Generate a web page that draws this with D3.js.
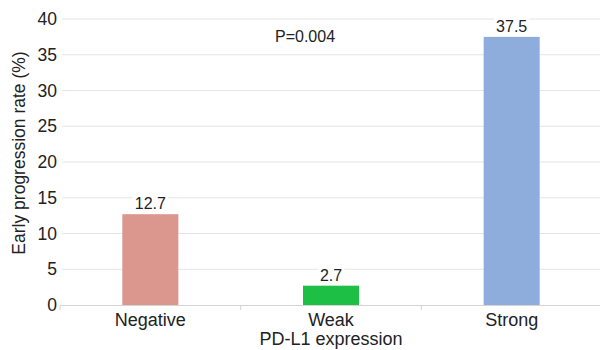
<!DOCTYPE html>
<html><head><meta charset="utf-8">
<script src="https://cdn.jsdelivr.net/npm/d3@7"></script>
<style>body{margin:0;background:#fff;}svg{display:block;font-family:"Liberation Sans",Arial,Helvetica,sans-serif;}</style>
</head><body><svg id="c" width="600" height="350"></svg>
<script>
const categories = ["Negative", "Weak", "Strong"];
const values = [12.7, 2.7, 37.5];
const colors = ["#DB968E", "#1DBF45", "#8EACDC"];
const yTicks = [0, 5, 10, 15, 20, 25, 30, 35, 40];
const pText = "P=0.004";
const xTitle = "PD-L1 expression";
const yTitle = "Early progression rate (%)";

const svg = d3.select("#c");
const m = {l: 60, r: 602, t: 19, b: 305};
const x = d3.scaleBand().domain(categories).range([m.l, m.r]).paddingInner(0.69).paddingOuter(0.345);
const xb = d3.scaleBand().domain(categories).range([m.l, m.r]);
const y = d3.scaleLinear().domain([0, 40]).range([m.b, m.t]);

// gridlines
svg.append("g").selectAll("line").data(yTicks.filter(d => d > 0)).join("line")
  .attr("x1", m.l + 2).attr("x2", m.r).attr("y1", d => y(d)).attr("y2", d => y(d))
  .attr("stroke", "#e4e4e4").attr("stroke-width", 1);

// y tick labels
svg.append("g").selectAll("text").data(yTicks).join("text")
  .attr("x", 57).attr("y", d => y(d)).attr("dy", "0.35em").attr("text-anchor", "end")
  .attr("font-size", 17.5).attr("fill", "#222").text(d => d);

// bars
svg.append("g").selectAll("rect").data(values).join("rect")
  .attr("x", (d, i) => x(categories[i])).attr("width", x.bandwidth())
  .attr("y", d => y(d)).attr("height", d => y(0) - y(d))
  .attr("fill", (d, i) => colors[i]);

// x axis line and ticks
const xa = svg.append("g");
xa.append("line").attr("x1", m.l).attr("x2", m.r).attr("y1", y(0) + 0.5).attr("y2", y(0) + 0.5)
  .attr("stroke", "#d4d4d4");
const bounds = categories.map(c => xb(c)).concat([m.r]);
xa.selectAll(".tk").data(bounds).join("line").attr("class", "tk")
  .attr("x1", d => d).attr("x2", d => d).attr("y1", y(0)).attr("y2", y(0) + 5)
  .attr("stroke", "#d4d4d4");
xa.selectAll("text").data(categories).join("text")
  .attr("x", d => x(d) + x.bandwidth() / 2).attr("y", 326).attr("text-anchor", "middle")
  .attr("font-size", 18).attr("fill", "#222").text(d => d);

// value labels with white background
const lg = svg.append("g").selectAll("g").data(values).join("g");
lg.each(function(d, i) {
  const g = d3.select(this);
  const cx = x(categories[i]) + x.bandwidth() / 2;
  const t = g.append("text").attr("x", cx).attr("y", y(d) - 5).attr("text-anchor", "middle")
    .attr("font-size", 16).attr("fill", "#222").text(d.toFixed(1));
  const bb = t.node().getBBox();
  g.insert("rect", "text").attr("x", bb.x - 2).attr("y", bb.y).attr("width", bb.width + 4)
    .attr("height", bb.height).attr("fill", "#fff");
});

// p value
svg.append("text").attr("x", 275).attr("y", 42).attr("font-size", 16).attr("fill", "#222").text(pText);

// titles
svg.append("text").attr("x", 331).attr("y", 345).attr("text-anchor", "middle")
  .attr("font-size", 18).attr("fill", "#222").text(xTitle);
svg.append("text").attr("transform", `translate(25,153) rotate(-90)`)
  .attr("text-anchor", "middle").attr("font-size", 17.5).attr("fill", "#222").text(yTitle);
</script></body></html>
